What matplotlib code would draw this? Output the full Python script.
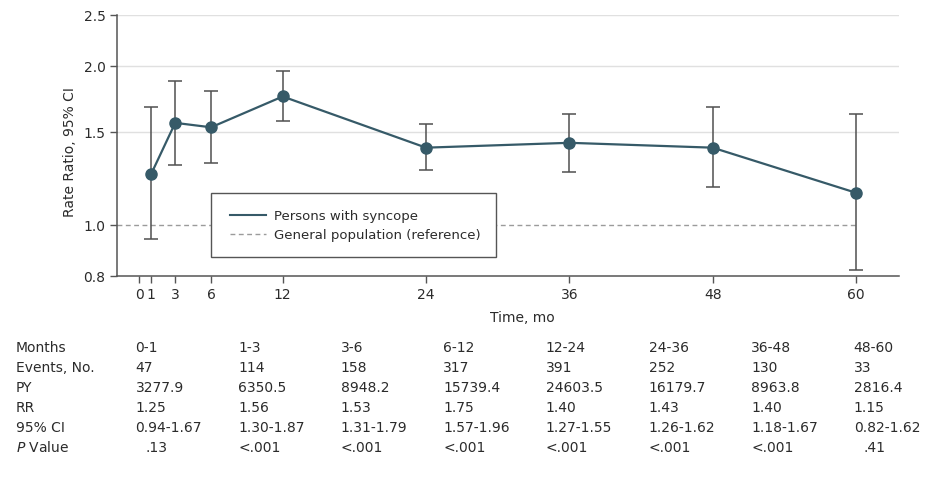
import matplotlib
matplotlib.use("Agg")
import matplotlib.pyplot as plt
from matplotlib.lines import Line2D
from matplotlib.patches import Rectangle
from matplotlib.ticker import NullLocator, FixedLocator

plt.rcParams['font.family'] = ['DejaVu Sans']
plt.rcParams['mathtext.fontset'] = 'dejavusans'

# ---------------- data ----------------
months = [1, 3, 6, 12, 24, 36, 48, 60]
rr = [1.25, 1.56, 1.53, 1.75, 1.40, 1.43, 1.40, 1.15]
ci_low = [0.94, 1.30, 1.31, 1.57, 1.27, 1.26, 1.18, 0.82]
ci_high = [1.67, 1.87, 1.79, 1.96, 1.55, 1.62, 1.67, 1.62]
xticks = [0, 1, 3, 6, 12, 24, 36, 48, 60]
yticks = [0.8, 1.0, 1.5, 2.0, 2.5]
grid_vals = [1.5, 2.0, 2.5]
ref_val = 1.0

row_labels = ["Months", "Events, No.", "PY", "RR", "95% CI", r"$\it{P}$ Value"]
tbl_months = ["0-1", "1-3", "3-6", "6-12", "12-24", "24-36", "36-48", "48-60"]
tbl_events = ["47", "114", "158", "317", "391", "252", "130", "33"]
tbl_py = ["3277.9", "6350.5", "8948.2", "15739.4", "24603.5", "16179.7", "8963.8", "2816.4"]
tbl_rr = ["1.25", "1.56", "1.53", "1.75", "1.40", "1.43", "1.40", "1.15"]
tbl_ci = ["0.94-1.67", "1.30-1.87", "1.31-1.79", "1.57-1.96", "1.27-1.55", "1.26-1.62", "1.18-1.67", "0.82-1.62"]
tbl_p = [".13", "<.001", "<.001", "<.001", "<.001", "<.001", "<.001", ".41"]

# ---------------- styles ----------------
W, H = 927, 481
teal = "#365a68"
err_col = "#505050"
spine_col = "#555555"
txt_col = "#2b2b2b"
ref_col = "#9b9b9b"

fig = plt.figure(figsize=(W / 100, H / 100), dpi=100)
ax_l, ax_r, ax_t, ax_b = 116.7, 899.0, 15.7, 277.0
ax = fig.add_axes([ax_l / W, 1 - ax_b / H, (ax_r - ax_l) / W, (ax_b - ax_t) / H])

ax.set_yscale('log')
ax.set_ylim(0.8, 2.5)
ax.set_xlim(-1.9, 63.6)
ax.yaxis.set_major_locator(FixedLocator(yticks))
ax.yaxis.set_minor_locator(NullLocator())
ax.set_yticklabels([f"{v:.1f}" for v in yticks])
ax.set_xticks(xticks)
ax.set_xticklabels([str(v) for v in xticks])

for s in ['top', 'right']:
    ax.spines[s].set_visible(False)
for s in ['left', 'bottom']:
    ax.spines[s].set_color(spine_col)
    ax.spines[s].set_linewidth(1.1)
ax.tick_params(direction='out', length=5, width=1, color=spine_col,
               labelsize=10, labelcolor=txt_col, pad=3)

for g in grid_vals:
    ax.axhline(g, color="#e0e0e0", lw=1.0, zorder=0)

ax.hlines(ref_val, ax.get_xlim()[0], max(months), colors=ref_col, lw=1.0,
          linestyles=(0, (3.5, 2.5)), zorder=1)

lo = [r - l for r, l in zip(rr, ci_low)]
hi = [h - r for r, h in zip(rr, ci_high)]
ax.errorbar(months, rr, yerr=[lo, hi], fmt='none', ecolor=err_col,
            elinewidth=1.1, capsize=5, capthick=1.1, zorder=2)
ax.plot(months, rr, color=teal, lw=1.6, marker='o', markersize=8,
        markerfacecolor=teal, markeredgecolor=teal, zorder=3)

# legend box
bx0, bx1, by0, by1 = 211.0, 495.7, 194.3, 258.3
def ax_x(px):
    return (px - ax_l) / (ax_r - ax_l)
def ax_y(py):
    return (ax_b - py) / (ax_b - ax_t)
ax.add_patch(Rectangle((ax_x(bx0), ax_y(by1)), ax_x(bx1) - ax_x(bx0), ax_y(by0) - ax_y(by1),
                       transform=ax.transAxes, facecolor='white', edgecolor=spine_col,
                       lw=1.0, zorder=5))
handles = [Line2D([], [], color=teal, lw=1.5),
           Line2D([], [], color=ref_col, lw=1.0, linestyle=(0, (3.5, 2.5)))]
leg = ax.legend(handles, ["Persons with syncope", "General population (reference)"],
                loc='center left', bbox_to_anchor=(ax_x(230), ax_y(226.3)),
                frameon=False, fontsize=9.5, borderpad=0, borderaxespad=0,
                handlelength=2.75, handletextpad=0.6, labelspacing=0.45)
leg.set_zorder(6)
for t in leg.get_texts():
    t.set_color(txt_col)

# axis labels
fig.text(522.5 / W, 1 - 318 / H, "Time, mo", ha='center', va='center', fontsize=10, color=txt_col)
fig.text(70 / W, 1 - 152 / H, "Rate Ratio, 95% CI", ha='center', va='center',
         rotation=90, fontsize=10, color=txt_col)

# table
rows = [tbl_months, tbl_events, tbl_py, tbl_rr, tbl_ci, tbl_p]
row_y = [348 + 20 * i for i in range(len(rows))]
col_x = [135.5 + 102.6 * j for j in range(len(tbl_months))]
for i, (lab, vals) in enumerate(zip(row_labels, rows)):
    y = 1 - row_y[i] / H
    fig.text(16 / W, y, lab, ha='left', va='center', fontsize=10, color=txt_col)
    for j, v in enumerate(vals):
        off = 10 if v.startswith('.') else 0
        fig.text((col_x[j] + off) / W, y, v, ha='left', va='center', fontsize=10, color=txt_col)

fig.savefig("out.png", dpi=100, facecolor='white')
